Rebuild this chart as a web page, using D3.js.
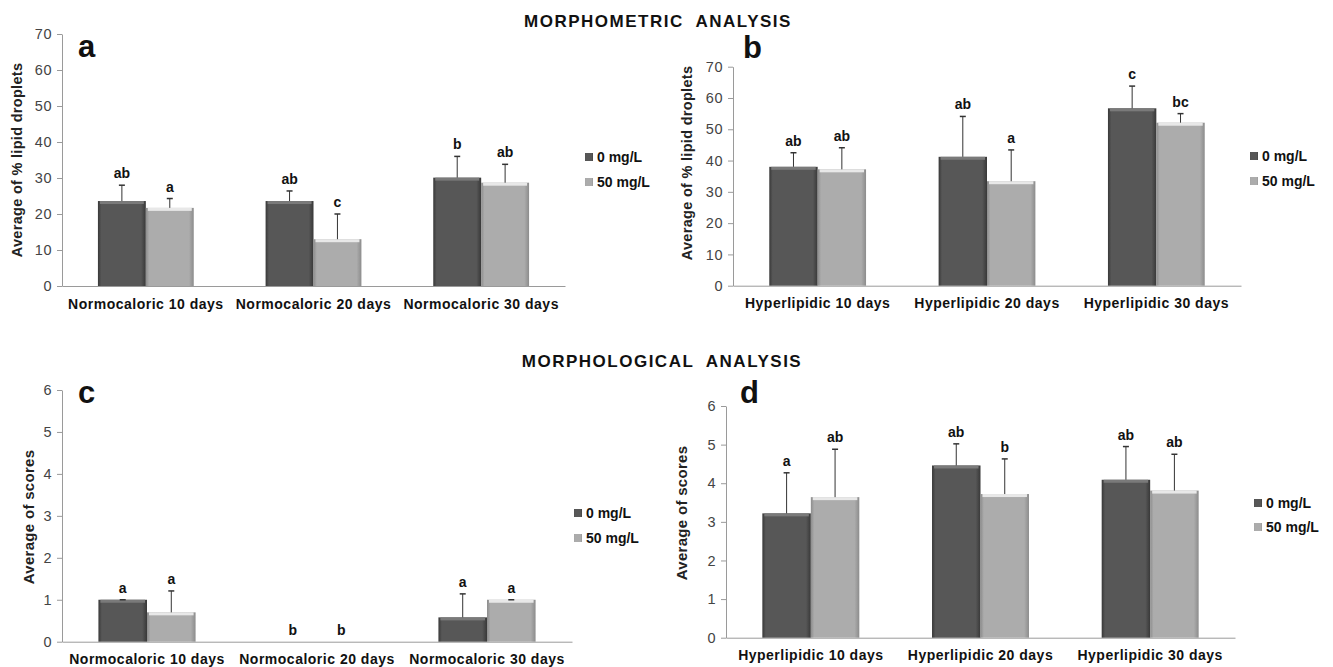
<!DOCTYPE html>
<html>
<head>
<meta charset="utf-8">
<script src="https://cdn.jsdelivr.net/npm/d3@7"></script>
<style>
  body { margin: 0; background: #fff; }
  svg, svg text { font-family: "Liberation Sans", Arial, sans-serif; }
  .axis path, .axis line { stroke: #9a9a9a; }
  .tick text { fill: #444; font-size: 14.5px; font-family: "Liberation Sans", Arial, sans-serif; }
</style>
</head>
<body>
<div id="chart"></div>
<script>
// categorias
var normoCats = ["Normocaloric 10 days", "Normocaloric 20 days", "Normocaloric 30 days"];
var hyperCats = ["Hyperlipidic 10 days", "Hyperlipidic 20 days", "Hyperlipidic 30 days"];
var seriesNames = ["0 mg/L", "50 mg/L"];

// a - morphometric, normocaloric
var aDark = [23.6, 23.6, 30.1], aDarkSD = [4.4, 2.8, 5.9];
var aLight = [21.7, 13.0, 28.7], aLightSD = [2.6, 7.0, 5.1];
var aDarkLet = ["ab", "ab", "b"], aLightLet = ["a", "c", "ab"];
// b - morphometric, hyperlipidic
var bDark = [38.0, 41.2, 56.7], bDarkSD = [4.5, 12.9, 7.1];
var bLight = [37.2, 33.4, 52.1], bLightSD = [6.9, 10.0, 2.9];
var bDarkLet = ["ab", "ab", "c"], bLightLet = ["ab", "a", "bc"];
// c - morphological, normocaloric
var cDark = [1.0, 0, 0.58], cDarkSD = [0, 0, 0.56];
var cLight = [0.70, 0, 1.0], cLightSD = [0.51, 0, 0];
var cDarkLet = ["a", "b", "a"], cLightLet = ["a", "b", "a"];
// d - morphological, hyperlipidic
var dDark = [3.22, 4.46, 4.09], dDarkSD = [1.05, 0.56, 0.86];
var dLight = [3.64, 3.72, 3.81], dLightSD = [1.24, 0.91, 0.94];
var dDarkLet = ["a", "ab", "ab"], dLightLet = ["ab", "b", "ab"];

var lipidTicks = [0, 10, 20, 30, 40, 50, 60, 70];
var scoreTicks = [0, 1, 2, 3, 4, 5, 6];

var svg = d3.select("#chart").append("svg")
    .attr("width", 1333)
    .attr("height", 667);

// gradientes para simular barras 3D do Excel
var defs = svg.append("defs");
function hGrad(id, edge, body) {
    var g = defs.append("linearGradient").attr("id", id)
        .attr("x1", "0%").attr("x2", "100%").attr("y1", "0%").attr("y2", "0%");
    g.append("stop").attr("offset", "0%").attr("stop-color", edge);
    g.append("stop").attr("offset", "7%").attr("stop-color", body);
    g.append("stop").attr("offset", "90%").attr("stop-color", body);
    g.append("stop").attr("offset", "100%").attr("stop-color", edge);
}
hGrad("gDark", "#383838", "#575757");
hGrad("gLight", "#8c8c8c", "#acacac");
var bevelColors = ["#7a7a7a", "#e8e8e8"];
var fills = ["url(#gDark)", "url(#gLight)"];

function panel(p) {
    var g = svg.append("g");
    var x0 = d3.scaleBand().domain(p.cats).range([p.left, p.right]);
    var x1 = d3.scaleBand().domain(seriesNames).range([0, x0.bandwidth()]).paddingOuter(0.75);
    var y = d3.scaleLinear().domain([0, p.max]).range([p.bottom, p.top]);

    g.append("g").attr("class", "axis")
        .attr("transform", "translate(" + p.left + ",0)")
        .call(d3.axisLeft(y).tickValues(p.ticks).tickFormat(d3.format("d"))
            .tickSize(5).tickSizeOuter(0).tickPadding(5))
        .selectAll(".tick text").style("letter-spacing", "0.5px");

    var xa = g.append("g").attr("class", "axis")
        .attr("transform", "translate(0," + p.bottom + ")")
        .call(d3.axisBottom(x0).tickSize(0).tickSizeOuter(0));
    xa.selectAll(".tick text")
        .attr("y", 22.5).attr("dy", 0)
        .style("font-size", "14px").style("font-weight", "bold").style("fill", "#111")
        .style("letter-spacing", "0.5px");

    var series = [
        {vals: p.dark, sd: p.darkSD, lets: p.darkLet},
        {vals: p.light, sd: p.lightSD, lets: p.lightLet}
    ];
    series.forEach(function(s, si) {
        var name = seriesNames[si];
        var rows = p.cats.map(function(c, i) {
            return {cat: c, v: s.vals[i], sd: s.sd[i], lab: s.lets[i]};
        });
        var bg = g.append("g");
        bg.selectAll("rect.bar").data(rows.filter(function(d) { return d.v > 0; }))
            .enter().append("rect").attr("class", "bar")
            .attr("x", function(d) { return x0(d.cat) + x1(name); })
            .attr("y", function(d) { return y(d.v); })
            .attr("width", x1.bandwidth())
            .attr("height", function(d) { return y(0) - y(d.v); })
            .attr("fill", fills[si]);
        bg.selectAll("rect.bevel").data(rows.filter(function(d) { return d.v > 0; }))
            .enter().append("rect").attr("class", "bevel")
            .attr("x", function(d) { return x0(d.cat) + x1(name) + 2; })
            .attr("y", function(d) { return y(d.v); })
            .attr("width", x1.bandwidth() - 4)
            .attr("height", 3)
            .attr("fill", bevelColors[si]);

        // barras de erro (só para cima)
        var cx = function(d) { return x0(d.cat) + x1(name) + x1.bandwidth() / 2; };
        var eb = bg.selectAll("g.err").data(rows.filter(function(d) { return d.v > 0; }))
            .enter().append("g").attr("class", "err");
        eb.append("line")
            .attr("x1", cx).attr("x2", cx)
            .attr("y1", function(d) { return y(d.v); })
            .attr("y2", function(d) { return y(d.v + d.sd); })
            .attr("stroke", "#333").attr("stroke-width", 1);
        eb.append("line")
            .attr("x1", function(d) { return cx(d) - 3; })
            .attr("x2", function(d) { return cx(d) + 3; })
            .attr("y1", function(d) { return y(d.v + d.sd); })
            .attr("y2", function(d) { return y(d.v + d.sd); })
            .attr("stroke", "#333").attr("stroke-width", 1.5);

        bg.selectAll("text.lab").data(rows)
            .enter().append("text").attr("class", "lab")
            .attr("x", cx)
            .attr("y", function(d) { return y(d.v + d.sd) - 7; })
            .attr("text-anchor", "middle")
            .style("font-size", "14px").style("font-weight", "bold").style("fill", "#111")
            .text(function(d) { return d.lab; });
    });

    // título do eixo y
    g.append("text")
        .attr("transform", "translate(" + p.ylabX + "," + p.ylabY + ") rotate(-90)")
        .attr("text-anchor", "middle").attr("dy", "0.35em")
        .style("font-size", p.ylabSize).style("font-weight", "bold").style("fill", "#222")
        .style("letter-spacing", "0.3px")
        .text(p.ylab);

    // letra do painel
    g.append("text")
        .attr("x", p.letX).attr("y", p.letY)
        .style("font-size", "31px").style("font-weight", "bold").style("fill", "#111")
        .text(p.letter);

    // legenda
    seriesNames.forEach(function(n, i) {
        var ly = p.legY[i];
        g.append("rect")
            .attr("x", p.legX).attr("y", ly - 4)
            .attr("width", 8).attr("height", 8)
            .attr("fill", fills[i]);
        g.append("text")
            .attr("x", p.legX + 12).attr("y", ly).attr("dy", "0.35em")
            .style("font-size", "14px").style("font-weight", "bold").style("fill", "#111")
            .text(n);
    });
}

panel({cats: normoCats, left: 62, right: 565, top: 34, bottom: 286, max: 70, ticks: lipidTicks,
    dark: aDark, darkSD: aDarkSD, light: aLight, lightSD: aLightSD, darkLet: aDarkLet, lightLet: aLightLet,
    ylab: "Average of % lipid droplets", ylabSize: "14.5px", ylabX: 17, ylabY: 160, letter: "a", letX: 78, letY: 57,
    legX: 585, legY: [157, 182]});
panel({cats: hyperCats, left: 733, right: 1241, top: 66.7, bottom: 285.7, max: 70, ticks: lipidTicks,
    dark: bDark, darkSD: bDarkSD, light: bLight, lightSD: bLightSD, darkLet: bDarkLet, lightLet: bLightLet,
    ylab: "Average of % lipid droplets", ylabSize: "14.5px", ylabX: 687, ylabY: 163, letter: "b", letX: 743, letY: 58,
    legX: 1250, legY: [156, 181]});
panel({cats: normoCats, left: 62, right: 572, top: 390, bottom: 641.7, max: 6, ticks: scoreTicks,
    dark: cDark, darkSD: cDarkSD, light: cLight, lightSD: cLightSD, darkLet: cDarkLet, lightLet: cLightLet,
    ylab: "Average of scores", ylabSize: "15px", ylabX: 29, ylabY: 517, letter: "c", letX: 78, letY: 403,
    legX: 574, legY: [513, 538]});
panel({cats: hyperCats, left: 726, right: 1235, top: 406, bottom: 637.7, max: 6, ticks: scoreTicks,
    dark: dDark, darkSD: dDarkSD, light: dLight, lightSD: dLightSD, darkLet: dDarkLet, lightLet: dLightLet,
    ylab: "Average of scores", ylabSize: "15px", ylabX: 682, ylabY: 513, letter: "d", letX: 740, letY: 403,
    legX: 1254, legY: [503, 527]});

// títulos das seções
svg.append("text").attr("x", 658).attr("y", 27).attr("text-anchor", "middle")
    .style("font-size", "17px").style("font-weight", "bold").style("fill", "#111")
    .style("letter-spacing", "1.5px").style("white-space", "pre")
    .text("MORPHOMETRIC  ANALYSIS");
svg.append("text").attr("x", 662).attr("y", 367).attr("text-anchor", "middle")
    .style("font-size", "17px").style("font-weight", "bold").style("fill", "#111")
    .style("letter-spacing", "1.5px").style("white-space", "pre")
    .text("MORPHOLOGICAL  ANALYSIS");
</script>
</body>
</html>
